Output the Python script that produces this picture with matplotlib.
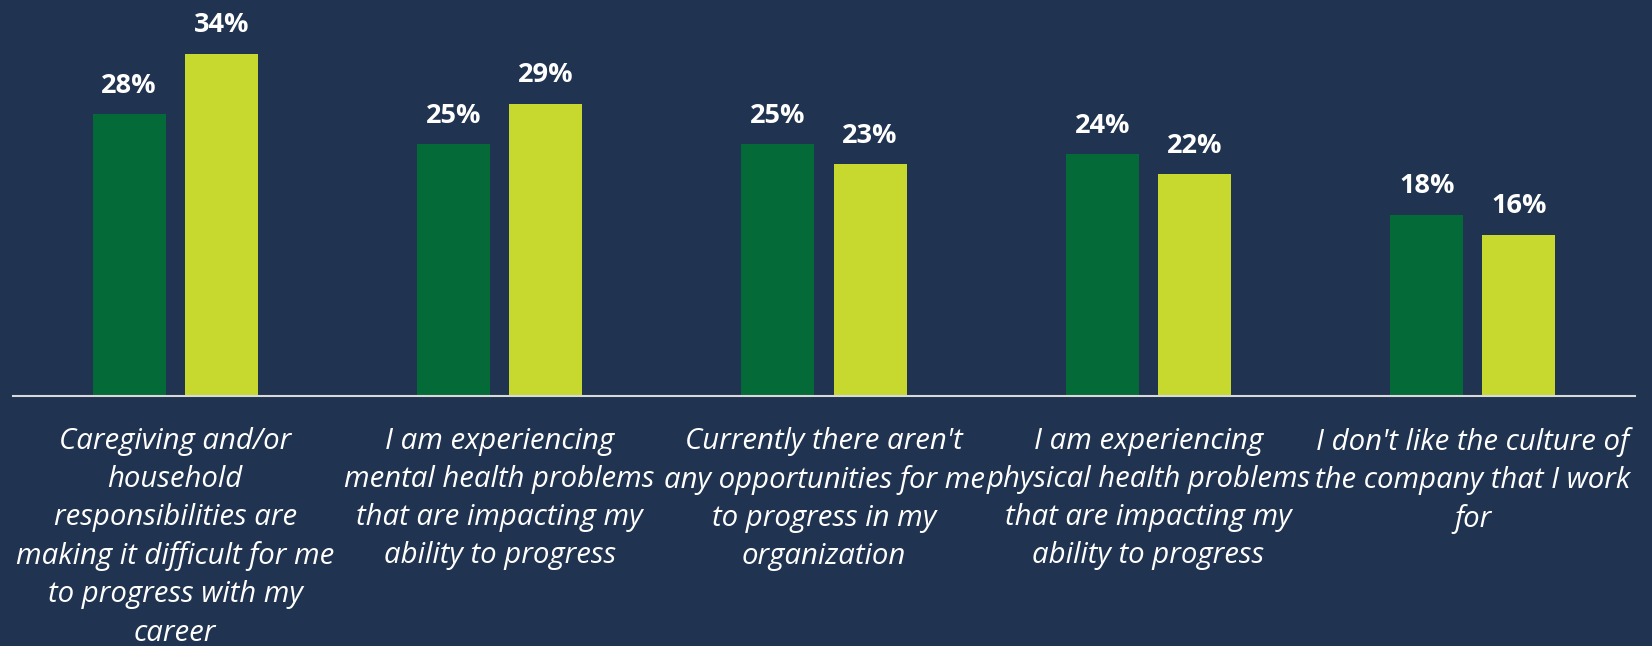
import matplotlib
matplotlib.use("Agg")
import matplotlib.pyplot as plt
import numpy as np

categories = [
    "Caregiving and/or\nhousehold\nresponsibilities are\nmaking it difficult for me\nto progress with my\ncareer",
    "I am experiencing\nmental health problems\nthat are impacting my\nability to progress",
    "Currently there aren't\nany opportunities for me\nto progress in my\norganization",
    "I am experiencing\nphysical health problems\nthat are impacting my\nability to progress",
    "I don't like the culture of\nthe company that I work\nfor",
]
series_a = [28, 25, 25, 24, 18]
series_b = [34, 29, 23, 22, 16]

BG = "#203350"
GREEN = "#046A38"
LIME = "#C7D82F"

W, H = 1652, 646
fig = plt.figure(figsize=(W / 100, H / 100), dpi=100, facecolor=BG)
ax_bottom_px = 396
ax = fig.add_axes([13 / W, 1 - ax_bottom_px / H, (1635 - 13) / W, ax_bottom_px / H])
ax.set_facecolor(BG)

x = np.arange(len(categories))
bw = 0.225
off = 0.142
b1 = ax.bar(x - off, series_a, width=bw, color=GREEN, zorder=2)
b2 = ax.bar(x + off, series_b, width=bw, color=LIME, zorder=2)

ax.set_xlim(-0.5, len(categories) - 0.5)
ax.set_ylim(0, ax_bottom_px / 10.07)

for bars, vals in ((b1, series_a), (b2, series_b)):
    for rect, v in zip(bars, vals):
        ax.annotate(f"{v}%", (rect.get_x() + rect.get_width() / 2, rect.get_height()),
                    xytext=(0, 15.5), textcoords="offset points", ha="center", va="baseline",
                    fontsize=19.5, fontweight="bold", color="white", family="Open Sans")

for s in ("top", "right", "left"):
    ax.spines[s].set_visible(False)
ax.spines["bottom"].set_color("#D9D9D9")
ax.spines["bottom"].set_linewidth(1.5)
ax.spines["bottom"].set_zorder(3)
ax.set_yticks([])
ax.set_xticks(x)
ax.set_xticklabels(categories, fontsize=21.2, style="italic", color="white",
                   family="Open Sans", linespacing=1.415)
ax.tick_params(axis="x", length=0, pad=22)

fig.savefig("out.png", dpi=100, facecolor=BG)
